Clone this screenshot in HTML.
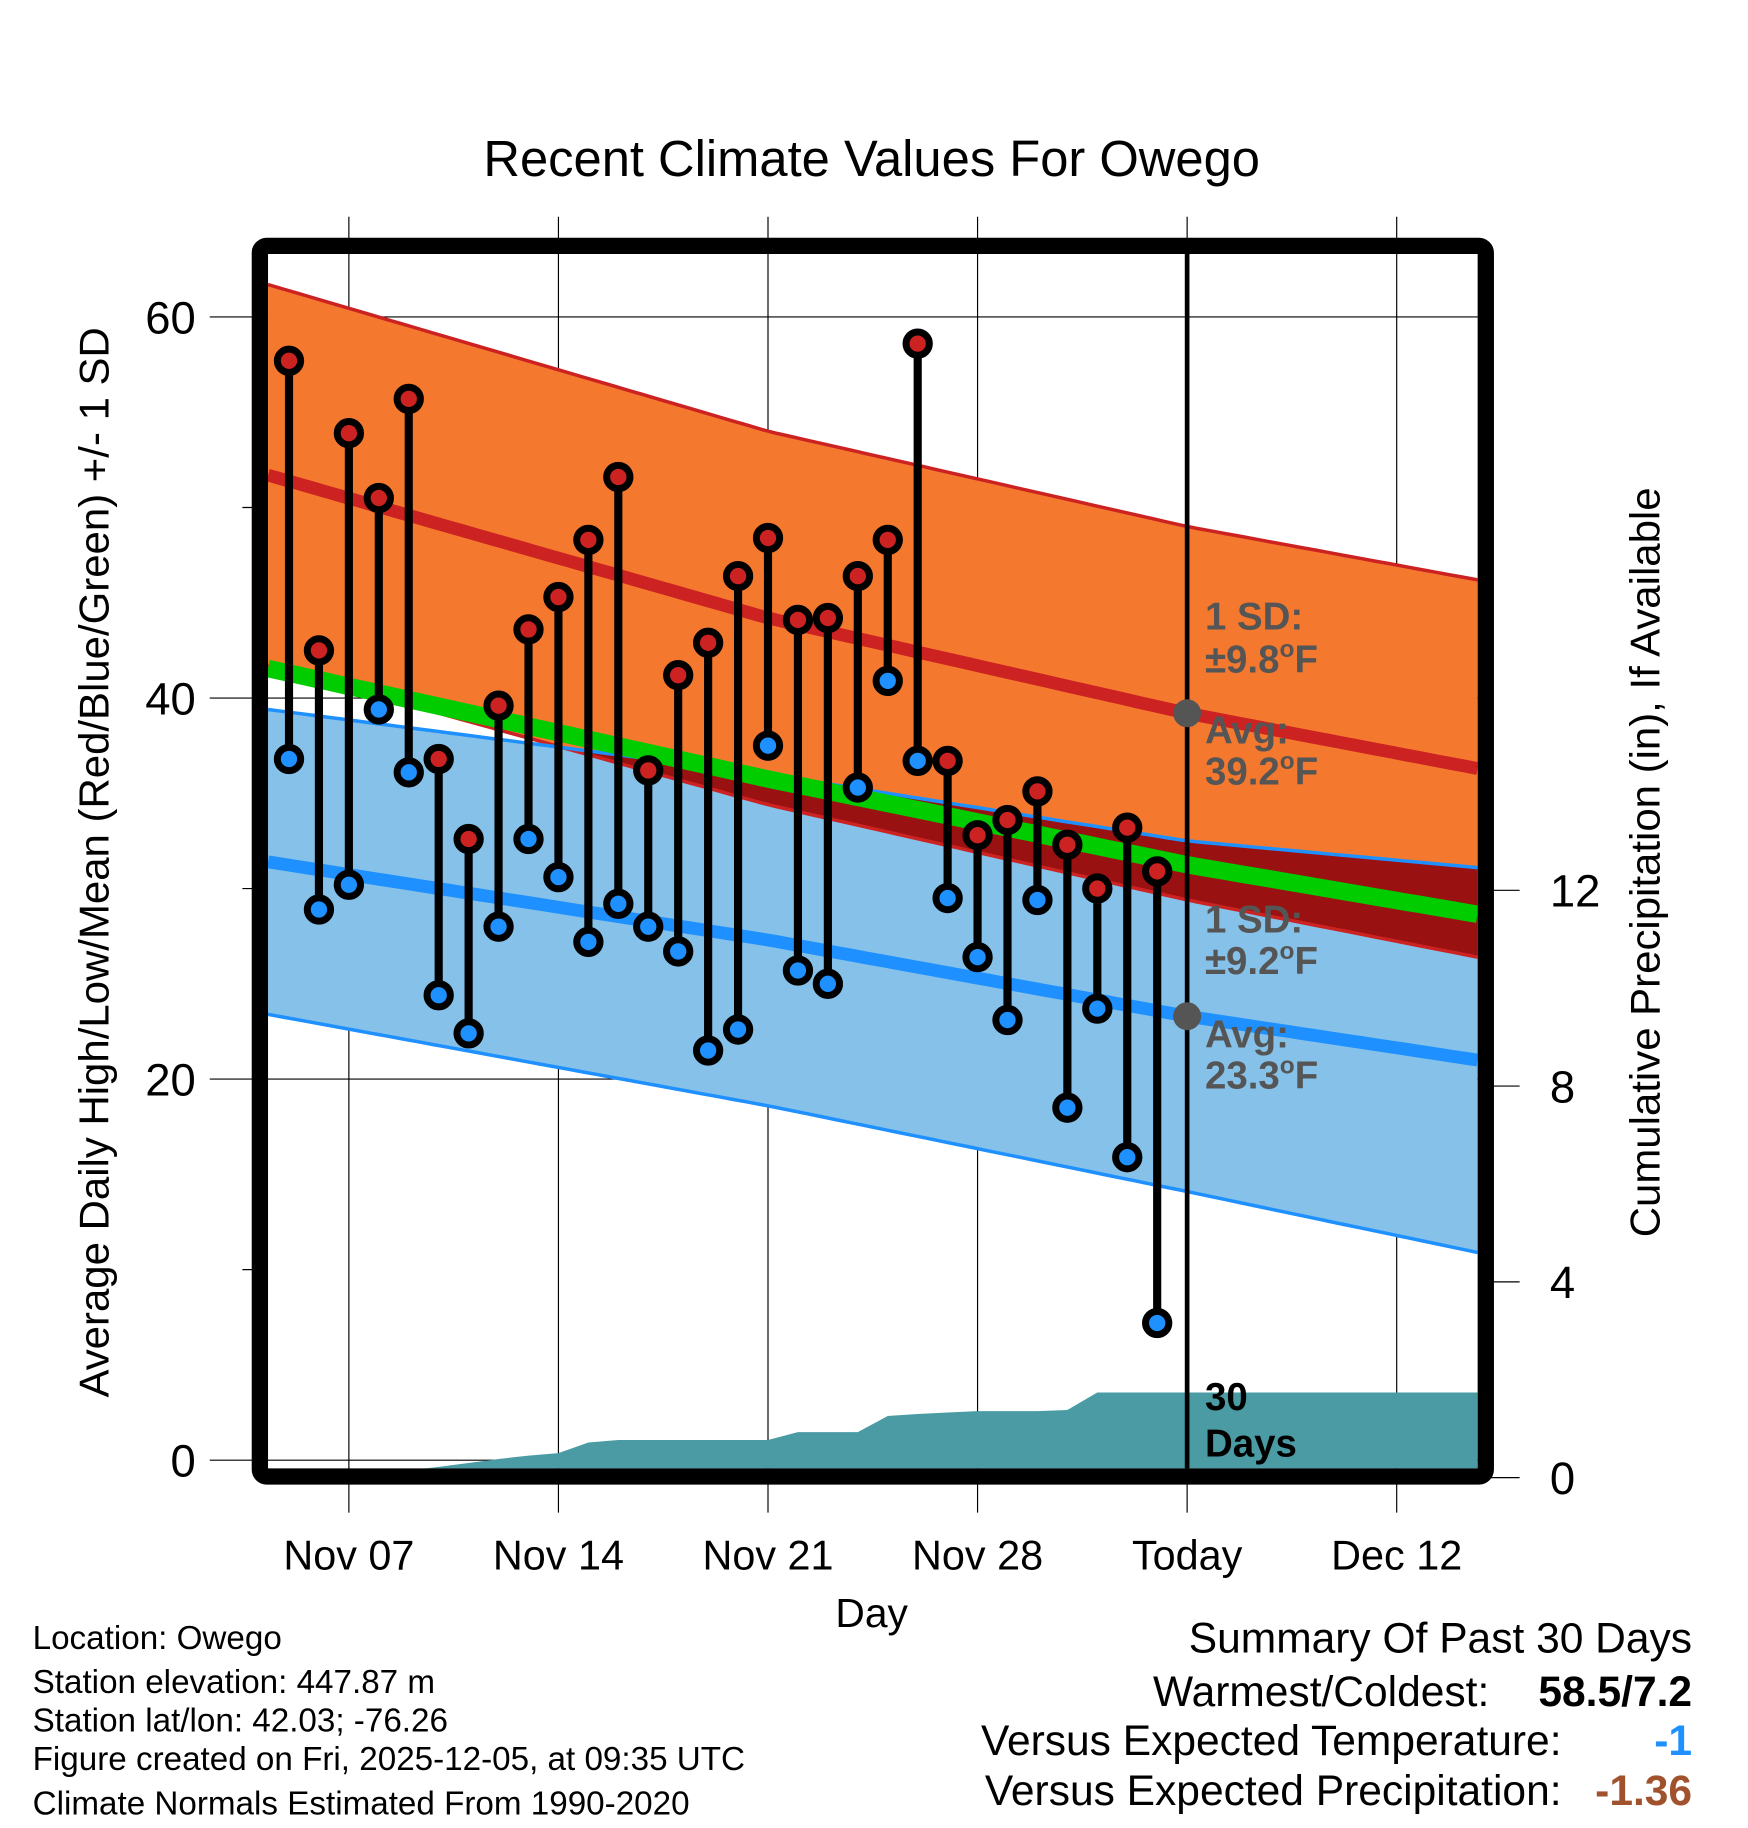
<!DOCTYPE html>
<html><head><meta charset="utf-8"><style>html,body{margin:0;padding:0;background:#fff}svg{display:block}text{font-family:"Liberation Sans",sans-serif}</style></head>
<body>
<svg id="chart" width="1748" height="1828" viewBox="0 0 1500 1568.65" xmlns="http://www.w3.org/2000/svg">
<defs><clipPath id="plotclip"><rect x="230" y="218" width="1038" height="1042"/></clipPath><clipPath id="blueclip"><path id="blueclipPath" d=""/></clipPath></defs>
<text x="748" y="151" font-size="43.5" text-anchor="middle">Recent Climate Values For Owego</text>
<g id="grid"></g>
<g id="plot" clip-path="url(#plotclip)"></g>
<g id="marks"></g>
<rect x="223" y="211" width="1052" height="1056" rx="6" fill="none" stroke="#000" stroke-width="14"/>
<g id="labels"></g>
<text transform="translate(93,740) rotate(-90)" font-size="36" text-anchor="middle">Average Daily High/Low/Mean (Red/Blue/Green) +/- 1 SD</text>
<text transform="translate(1424,740) rotate(-90)" font-size="36" text-anchor="middle">Cumulative Precipitation (in), If Available</text>
<text x="748" y="1396" font-size="35" text-anchor="middle">Day</text>
<g font-size="28.5">
<text x="28" y="1415">Location: Owego</text>
<text x="28" y="1453">Station elevation: 447.87 m</text>
<text x="28" y="1486">Station lat/lon: 42.03; -76.26</text>
<text x="28" y="1519">Figure created on Fri, 2025-12-05, at 09:35 UTC</text>
<text x="28" y="1557">Climate Normals Estimated From 1990-2020</text>
</g>
<g font-size="36.5" text-anchor="end">
<text x="1452" y="1418">Summary Of Past 30 Days</text>
<text x="1278" y="1464">Warmest/Coldest:</text>
<text x="1452" y="1464" font-weight="bold">58.5/7.2</text>
<text x="1340" y="1506">Versus Expected Temperature:</text>
<text x="1452" y="1506" font-weight="bold" fill="#1e90ff">-1</text>
<text x="1340" y="1549">Versus Expected Precipitation:</text>
<text x="1452" y="1549" font-weight="bold" fill="#a0522d">-1.36</text>
</g>
</svg>
<script>
const highs=[57.7,42.5,53.9,50.5,55.7,36.8,32.6,39.6,43.6,45.3,48.3,51.6,36.2,41.2,42.9,46.4,48.4,44.1,44.2,46.4,48.3,58.6,36.7,32.8,33.6,35.1,32.3,30.0,33.2,30.9];
const lows=[36.8,28.9,30.2,39.4,36.1,24.4,22.4,28.0,32.6,30.6,27.2,29.2,28.0,26.7,21.5,22.6,37.5,25.7,25.0,35.3,40.9,36.7,29.5,26.4,23.1,29.4,18.5,23.7,15.9,7.2];
const precip=[0,0,0.05,0.1,0.15,0.22,0.3,0.38,0.45,0.5,0.72,0.77,0.77,0.77,0.77,0.77,0.77,0.93,0.93,0.93,1.26,1.3,1.33,1.36,1.36,1.36,1.38,1.74,1.74,1.74];
const normDays=[0.3,17,31,40.7];
const normHigh=[51.7,44.2,39.2,36.3];
const normLow=[31.4,27.3,23.3,21.0];
const sdHigh=[10.0,9.8,9.8,9.9];
const sdLow=[8.0,8.7,9.2,10.1];
const yTicks=[0,20,40,60];
const yMinor=[10,30,50];
const pTicks=[0,4,8,12];
const xTickDays=[3,10,17,24,31,38];
const xTickLabels=["Nov 07","Nov 14","Nov 21","Nov 28","Today","Dec 12"];
const todayDay=31;

const X=d=>248+(d-1)*25.69;
const Y=v=>1253-v*16.35;
const P=v=>1268-v*42;
const NS="http://www.w3.org/2000/svg";
function mk(tag,attrs,parent){const e=document.createElementNS(NS,tag);for(const k in attrs)e.setAttribute(k,attrs[k]);parent.appendChild(e);return e;}
function interp(arr,d){for(let i=0;i<normDays.length-1;i++){if(d<=normDays[i+1]||i===normDays.length-2){const t=(d-normDays[i])/(normDays[i+1]-normDays[i]);return arr[i]+t*(arr[i+1]-arr[i]);}}}
const grid=document.getElementById('grid'),plot=document.getElementById('plot'),marks=document.getElementById('marks'),labels=document.getElementById('labels');
const samp=[];for(let d=normDays[0];d<normDays[3];d+=0.5)samp.push(d);samp.push(normDays[3]);
function line(fn){return samp.map((d,i)=>(i?'L':'M')+X(d).toFixed(1)+','+Y(fn(d)).toFixed(1)).join(' ');}
function band(fu,fl){const up=samp.map((d,i)=>(i?'L':'M')+X(d).toFixed(1)+','+Y(fu(d)).toFixed(1)).join(' ');const lo=samp.slice().reverse().map(d=>'L'+X(d).toFixed(1)+','+Y(fl(d)).toFixed(1)).join(' ');return up+' '+lo+' Z';}
const hU=d=>interp(normHigh,d)+interp(sdHigh,d),hL=d=>interp(normHigh,d)-interp(sdHigh,d),hA=d=>interp(normHigh,d);
const lU=d=>interp(normLow,d)+interp(sdLow,d),lL=d=>interp(normLow,d)-interp(sdLow,d),lA=d=>interp(normLow,d);
const mean=d=>(hA(d)+lA(d))/2;
xTickDays.forEach((d,i)=>{let e=mk('line',{x1:X(d),x2:X(d),y1:186,y2:1298,stroke:'#000','stroke-width':1},grid);
 let t=mk('text',{x:X(d),y:1347,'font-size':35.5,'text-anchor':'middle'},labels);t.textContent=xTickLabels[i];});
yTicks.forEach(v=>{let e=mk('line',{x1:180,x2:1276,y1:Y(v),y2:Y(v),stroke:'#000','stroke-width':1},grid);
 let t=mk('text',{x:168,y:Y(v)+14,'font-size':39,'text-anchor':'end'},labels);t.textContent=v;});
yMinor.forEach(v=>{let e=mk('line',{x1:208,x2:222,y1:Y(v),y2:Y(v),stroke:'#000','stroke-width':1},grid);});
pTicks.forEach(v=>{let e=mk('line',{x1:1276,x2:1304,y1:P(v),y2:P(v),stroke:'#000','stroke-width':1},grid);
 let t=mk('text',{x:1330,y:P(v)+14,'font-size':39},labels);t.textContent=v;});
const blueD=band(lU,lL);document.getElementById('blueclipPath').setAttribute('d',blueD);
let e;
e=mk('path',{d:blueD,fill:'#85c1e8'},plot);
const orD=band(hU,hL);
e=mk('path',{d:orD,fill:'#f4792e'},plot);
e=mk('path',{d:orD,fill:'#991111','clip-path':'url(#blueclip)'},plot);
e=mk('path',{d:line(hU),fill:'none',stroke:'#cc2222','stroke-width':3},plot);
e=mk('path',{d:line(hL),fill:'none',stroke:'#cc2222','stroke-width':3},plot);
e=mk('path',{d:line(lU),fill:'none',stroke:'#1e90ff','stroke-width':3},plot);
e=mk('path',{d:line(lL),fill:'none',stroke:'#1e90ff','stroke-width':3},plot);
e=mk('path',{d:line(hA),fill:'none',stroke:'#cc2222','stroke-width':11},plot);
e=mk('path',{d:line(lA),fill:'none',stroke:'#1e90ff','stroke-width':11},plot);
e=mk('path',{d:line(mean),fill:'none',stroke:'#00cc00','stroke-width':15},plot);
let pd='M'+X(normDays[0])+','+P(0);
precip.forEach((v,i)=>{pd+=' L'+X(i+1).toFixed(1)+','+P(v).toFixed(1);});
pd+=' L'+X(normDays[3])+','+P(precip[precip.length-1])+' L'+X(normDays[3])+','+P(0)+' Z';
e=mk('path',{d:pd,fill:'#4a9ba4'},plot);
e=mk('line',{x1:X(todayDay),x2:X(todayDay),y1:218,y2:1262,stroke:'#000','stroke-width':4},plot);
highs.forEach((h,i)=>{const x=X(i+1),l=lows[i];
 let s=mk('line',{x1:x,x2:x,y1:Y(h),y2:Y(l),stroke:'#000','stroke-width':7},marks);
 let c=mk('circle',{cx:x,cy:Y(h),r:10,fill:'#cc2222',stroke:'#000','stroke-width':6},marks);
 let c2=mk('circle',{cx:x,cy:Y(l),r:10,fill:'#1e90ff',stroke:'#000','stroke-width':6},marks);
});
const tH=interp(normHigh,todayDay),tL=interp(normLow,todayDay);
e=mk('circle',{cx:X(todayDay),cy:Y(tH),r:12,fill:'#555'},marks);
e=mk('circle',{cx:X(todayDay),cy:Y(tL),r:12,fill:'#555'},marks);
function ann(txt,y,name,fill){let t=mk('text',{x:1034,y:y,'font-size':33,'font-weight':'bold',fill:fill||'#555'},marks);t.innerHTML=txt;}
ann('1 SD:',540,'high-sd-label');ann('±9.8<tspan font-size="21" dy="-13">o</tspan><tspan dy="13">F</tspan>',577,'high-sd-value');
ann('Avg:',638,'avg-high-label');ann('39.2<tspan font-size="21" dy="-13">o</tspan><tspan dy="13">F</tspan>',673,'avg-high-value');
ann('1 SD:',800,'low-sd-label');ann('±9.2<tspan font-size="21" dy="-13">o</tspan><tspan dy="13">F</tspan>',836,'low-sd-value');
ann('Avg:',899,'avg-low-label');ann('23.3<tspan font-size="21" dy="-13">o</tspan><tspan dy="13">F</tspan>',934,'avg-low-value');
ann('30',1210,'days-count-label','#000');ann('Days',1250,'days-label','#000');
</script>
</body></html>
